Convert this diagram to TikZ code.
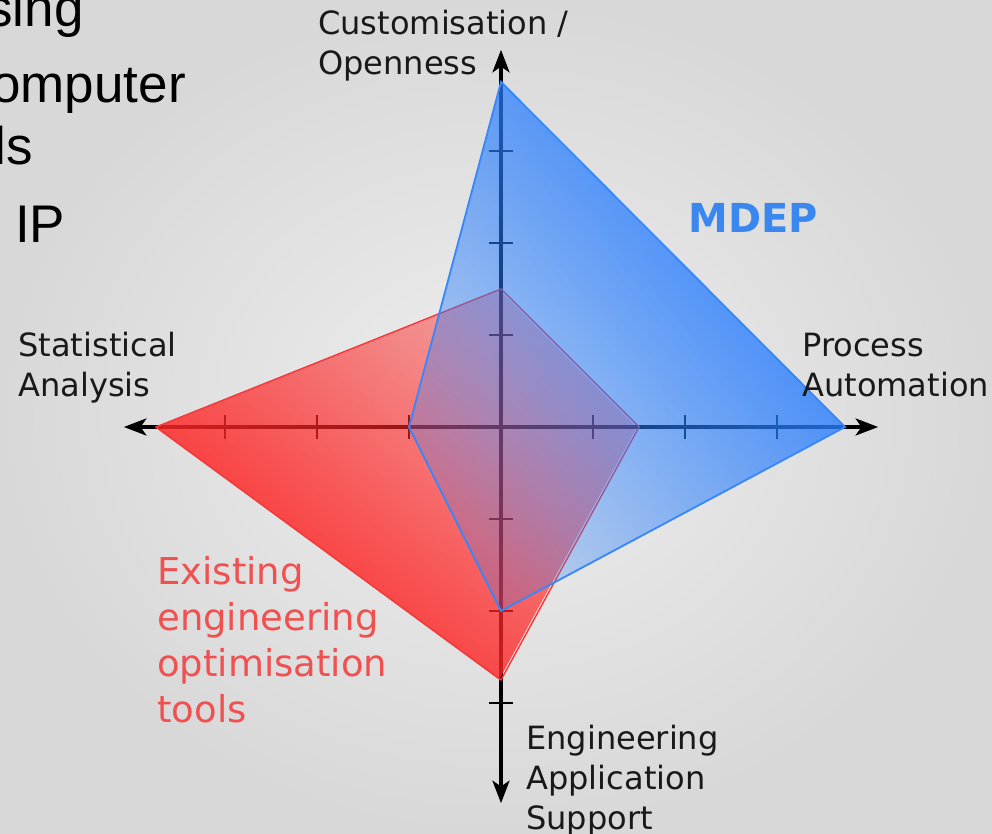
\documentclass[tikz,border=0pt]{standalone}
\usepackage{fontspec}
\setmainfont{DejaVu Sans}
\newfontfamily\slidefont{Liberation Sans}
\usetikzlibrary{arrows.meta,fadings}
\definecolor{bgin}{RGB}{238,238,238}
\definecolor{bgout}{RGB}{216,216,216}
\definecolor{redfill}{RGB}{255,38,38}
\definecolor{redline}{RGB}{245,55,55}
\definecolor{bluefill}{RGB}{42,127,255}
\definecolor{blueline}{RGB}{55,135,250}
\definecolor{mdepblue}{RGB}{58,135,240}
\definecolor{eotred}{RGB}{240,80,80}
\definecolor{labelgray}{RGB}{25,25,25}
\tikzfading[name=redfade, top color=transparent!65, bottom color=transparent!0]
\tikzfading[name=bluefade, top color=transparent!0, bottom color=transparent!78]
\newcommand{\htick}[1]{\draw[tickmark] (#1,-.13) -- (#1,.13);}
\newcommand{\vtick}[1]{\draw[tickmark] (-.13,#1) -- (.13,#1);}
\tikzset{
 axis/.style={line width=3.5pt,
  {Stealth[length=5.6mm,width=4.2mm,inset=1.4mm]}-{Stealth[length=5.6mm,width=4.2mm,inset=1.4mm]}},
 tickmark/.style={line width=1.5pt},
 axislabel/.style={anchor=base west, align=left, inner sep=0pt, text=labelgray,
  font=\fontsize{22.8pt}{28.5pt}\selectfont},
 slidetext/.style={inner sep=0pt, font=\slidefont\fontsize{37.7pt}{45pt}\selectfont},
 redarea/.style={fill=redfill, path fading=redfade, fading angle=-45},
 bluearea/.style={fill=bluefill, path fading=bluefade, fading angle=-45}
}
\begin{document}
\begin{tikzpicture}[x=2.3cm,y=2.3cm]
  \useasboundingbox (-5.4457,-4.4239) rectangle (5.3370,4.6413);
  \shade[inner color=bgin, outer color=bgout] (-5.4457,-4.4239) rectangle (5.3370,4.6413);
  % slide text cut off at the left
  \node[slidetext, anchor=base east] (t1) at (-4.533,4.348) {sing};
  \node[slidetext, anchor=base east] (t2) at (-3.424,3.522) {omputer};
  \node[slidetext, anchor=base east] (t3) at (-5.087,2.848) {ls};
  \node[slidetext, anchor=base west] (t4) at (-5.283,2.0) {IP};
  % axes
  \coordinate (W) at (-4.1,0);
  \coordinate (E) at (4.1,0);
  \coordinate (N) at (0,4.1);
  \coordinate (S) at (0,-4.09);
  \draw[axis] (W) -- (E);
  \draw[axis] (S) -- (N);
  \htick{-3} \htick{-2} \htick{-1} \htick{1} \htick{2} \htick{3}
  \vtick{-3} \vtick{-2} \vtick{-1} \vtick{1} \vtick{2} \vtick{3}
  % existing tools
  \coordinate (r1) at (-3.75,0);
  \coordinate (r2) at (0,1.5);
  \coordinate (r3) at (1.5,0);
  \coordinate (r4) at (0,-2.75);
  \fill[redarea] (r1) -- (r2) -- (r3) -- (r4) -- cycle;
  \draw[redline, line width=1pt] (r1) -- (r2) -- (r3) -- (r4) -- cycle;
  % MDEP
  \coordinate (b1) at (-1,0);
  \coordinate (b2) at (0,3.75);
  \coordinate (b3) at (3.74,0);
  \coordinate (b4) at (0,-2);
  \fill[bluearea] (b1) -- (b2) -- (b3) -- (b4) -- cycle;
  \draw[blueline, line width=1.3pt] (b1) -- (b2) -- (b3) -- (b4) -- cycle;
  % labels
  \node[axislabel] (co) at (-1.989,3.826) {Customisation /\\Openness};
  \node[axislabel] (sa) at (-5.25,0.326) {Statistical\\Analysis};
  \node[axislabel] (pa) at (3.272,0.326) {Process\\Automation};
  \node[axislabel] (ea) at (0.272,-4.380) {Engineering\\Application\\Support};
  \node[anchor=base west, inner sep=0pt, text=mdepblue,
    font=\bfseries\fontsize{28.4pt}{34pt}\selectfont] (mdep) at (2.033,2.109) {MDEP};
  \node[anchor=base west, align=left, inner sep=0pt, text=eotred,
    font=\fontsize{26.3pt}{32.7pt}\selectfont] (eot) at (-3.739,-3.207)
    {Existing\\engineering\\optimisation\\tools};
\end{tikzpicture}
\end{document}
